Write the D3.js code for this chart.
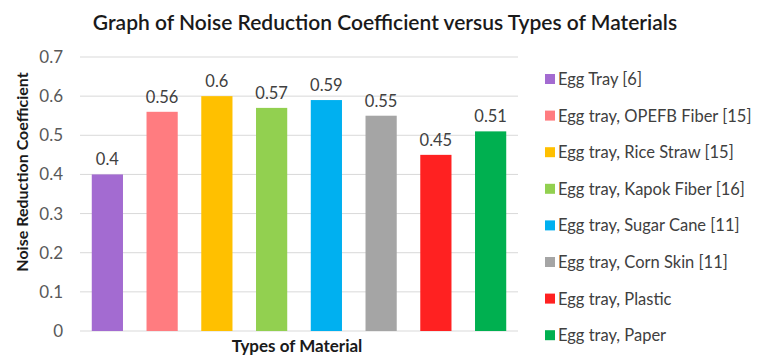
<!DOCTYPE html>
<html>
<head>
<meta charset="utf-8">
<script src="https://cdn.jsdelivr.net/npm/d3@7"></script>
<style>
  body { margin: 0; background: #fff; }
  svg { font-family: Lato, "Open Sans", sans-serif; }
</style>
</head>
<body>
<div id="chart"></div>
<script>
const materials = [
    "Egg Tray [6]",
    "Egg tray, OPEFB Fiber [15]",
    "Egg tray, Rice Straw [15]",
    "Egg tray, Kapok Fiber [16]",
    "Egg tray, Sugar Cane [11]",
    "Egg tray, Corn Skin [11]",
    "Egg tray, Plastic",
    "Egg tray, Paper"
];
const nrcValues = [0.4, 0.56, 0.6, 0.57, 0.59, 0.55, 0.45, 0.51];
const barColors = ["#a36bd1", "#ff7c80", "#ffc000", "#92d050", "#00b0f0", "#a5a5a5", "#ff2121", "#00b050"];
const yTicks = [0, 0.1, 0.2, 0.3, 0.4, 0.5, 0.6, 0.7];

const width = 765, height = 360;
const margin = { top: 57, right: 247, bottom: 29, left: 80 };

const svg = d3.select("#chart").append("svg")
    .attr("width", width)
    .attr("height", height);

const x = d3.scaleBand()
    .domain(materials)
    .range([margin.left, width - margin.right])
    .paddingInner(0.43)
    .paddingOuter(0.215);

const y = d3.scaleLinear()
    .domain([0, 0.7])
    .range([height - margin.bottom, margin.top]);

// gridlines
svg.append("g")
    .selectAll("line")
    .data(yTicks)
    .join("line")
    .attr("x1", margin.left)
    .attr("x2", width - margin.right)
    .attr("y1", d => y(d))
    .attr("y2", d => y(d))
    .attr("stroke", "#d9d9d9")
    .attr("stroke-width", 1);

// y tick labels
svg.append("g")
    .call(d3.axisLeft(y).tickValues(yTicks).tickSize(0).tickPadding(0).tickFormat(d => d === 0 ? "0" : d3.format(".1f")(d)))
    .attr("transform", `translate(${margin.left - 17},0)`)
    .call(g => g.select(".domain").remove())
    .selectAll("text")
    .style("font-size", "17px")
    .style("font-family", "Lato, sans-serif")
    .attr("fill", "#595959");

// bars
svg.append("g")
    .selectAll("rect")
    .data(nrcValues)
    .join("rect")
    .attr("x", (d, i) => x(materials[i]))
    .attr("y", d => y(d))
    .attr("width", x.bandwidth())
    .attr("height", d => y(0) - y(d))
    .attr("fill", (d, i) => barColors[i]);

// value labels
svg.append("g")
    .selectAll("text")
    .data(nrcValues)
    .join("text")
    .attr("x", (d, i) => x(materials[i]) + x.bandwidth() / 2)
    .attr("y", d => y(d) - 9)
    .attr("text-anchor", "middle")
    .style("font-size", "16.5px")
    .attr("fill", "#404040")
    .text(d => d);

// title
svg.append("text")
    .attr("x", 385)
    .attr("y", 30)
    .attr("text-anchor", "middle")
    .style("font-size", "21px")
    .style("font-weight", "600")
    .attr("fill", "#1a1a1a")
    .text("Graph of Noise Reduction Coefficient versus Types of Materials");

// axis titles
svg.append("text")
    .attr("x", 297)
    .attr("y", 352)
    .attr("text-anchor", "middle")
    .style("font-size", "17px")
    .style("font-weight", "bold")
    .attr("fill", "#1a1a1a")
    .text("Types of Material");

svg.append("text")
    .attr("transform", "translate(28,172) rotate(-90)")
    .attr("text-anchor", "middle")
    .style("font-size", "16px")
    .style("font-weight", "bold")
    .attr("fill", "#1a1a1a")
    .text("Noise Reduction Coefficient");

// legend
const legend = svg.append("g")
    .selectAll("g")
    .data(materials)
    .join("g")
    .attr("transform", (d, i) => `translate(545,${79 + i * 36.6})`);

legend.append("rect")
    .attr("x", 0)
    .attr("y", -5)
    .attr("width", 10)
    .attr("height", 10)
    .attr("fill", (d, i) => barColors[i]);

legend.append("text")
    .attr("x", 13)
    .attr("y", 6)
    .style("font-size", "16.5px")
    .attr("fill", "#404040")
    .text(d => d);
</script>
</body>
</html>
